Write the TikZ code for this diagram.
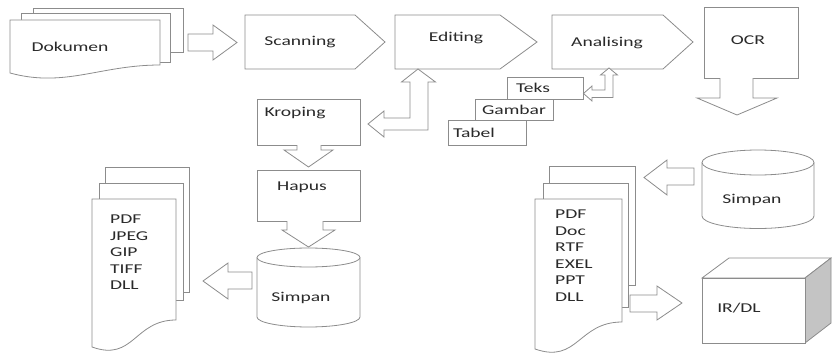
\documentclass[tikz,border=0pt]{standalone}
\usepackage{fontspec}
\setmainfont{Carlito}[FakeStretch=1.45]
\definecolor{ln}{HTML}{8C8C8C}
\definecolor{tx}{HTML}{2A2A2A}
\definecolor{side}{HTML}{C4C4C4}
\tikzset{
  shp/.style={draw=ln, line width=0.8pt, fill=white, line join=miter},
  edge/.style={draw=ln, line width=0.8pt, line join=miter},
  gap/.style={fill=white},
  lbl/.style={text=tx, font=\fontsize{13.5}{16.5}\selectfont, inner sep=0pt},
  lst/.style={lbl, align=left, anchor=north west},
}
\begin{document}
\begin{tikzpicture}[x=1pt,y=-1pt]
\useasboundingbox (0,0) rectangle (832,353);

% ---- Dokumen (multi-document)
\draw[shp] (33,8) rectangle (183,52);
\draw[shp] (21,13) rectangle (170,62);
\draw[shp] (10,20) -- (160,20) -- (160,65) .. controls (100,65) and (65,88) .. (10,73) -- cycle;
\node[lbl] (dok) at (70,47) {Dokumen};

% block arrow Dokumen -> Scanning
\draw[shp] (188,34) -- (213,34) -- (213,25) -- (237,42.5) -- (213,60) -- (213,51) -- (188,51) -- cycle;

% ---- process chevrons
\draw[shp] (245,15) -- (355,15) -- (385,42) -- (355,69) -- (245,69) -- cycle;
\node[lbl] (scan) at (300,42) {Scanning};
\draw[shp] (395,15) -- (500,15) -- (537,42) -- (500,69) -- (395,69) -- cycle;
\node[lbl] (edit) at (456,38) {Editing};
\draw[shp] (552,15) -- (663,15) -- (693,42) -- (663,69) -- (552,69) -- cycle;
\node[lbl] (anal) at (607,43) {Analising};

% ---- OCR
\draw[shp] (704,7) rectangle (798,78);
\node[lbl] (ocr) at (748,40) {OCR};
\fill[gap] (720,76) -- (720,98) -- (697,98) -- (737,115) -- (777,98) -- (753,98) -- (753,76) -- cycle;
\draw[edge] (720,78) -- (720,98) -- (697,98) -- (737,115) -- (777,98) -- (753,98) -- (753,78);

% ---- Editing <-> Kroping (left-up arrow)
\draw[shp] (418,69) -- (435.5,82) -- (428,82) -- (428,130) -- (384,130) -- (384,137) -- (368,124) -- (384,111) -- (384,118) -- (410,118) -- (410,82) -- (401.5,82) -- cycle;

% ---- Kroping
\draw[shp] (257,99) rectangle (360,145);
\node[lbl] (krop) at (295,113) {Kroping};
\fill[gap] (297,143) -- (297,150) -- (284,150) -- (308.5,167) -- (333,150) -- (321,150) -- (321,143) -- cycle;
\draw[edge] (297,145) -- (297,150) -- (284,150) -- (308.5,167) -- (333,150) -- (321,150) -- (321,145);

% ---- Hapus
\draw[shp] (257,170) rectangle (360,221);
\node[lbl] (hapus) at (302,187) {Hapus};
\fill[gap] (287,219) -- (287,230) -- (282,230) -- (308.5,247) -- (335,230) -- (323,230) -- (323,219) -- cycle;
\draw[edge] (287,221) -- (287,230) -- (282,230) -- (308.5,247) -- (335,230) -- (323,230) -- (323,221);

% ---- Simpan (left cylinder)
\fill[gap] (257,257.5) -- (257,317) arc[start angle=180, end angle=0, x radius=51.5, y radius=10] -- (360,257.5) -- cycle;
\draw[edge] (257,257.5) -- (257,317) arc[start angle=180, end angle=0, x radius=51.5, y radius=10] -- (360,257.5);
\draw[shp] (308.5,257.5) ellipse[x radius=51.5, y radius=9.5];
\node[lbl] (simpL) at (301,298) {Simpan};

% arrow Simpan -> left documents
\draw[shp] (252,272) -- (228,272) -- (228,263) -- (203,281) -- (228,299) -- (228,289) -- (252,289) -- cycle;

% ---- left documents
\draw[shp] (105,167) rectangle (189,292);
\draw[shp] (99,183) rectangle (183,300);
\draw[shp] (92,199) -- (176,199) -- (176,320) .. controls (134,320) and (134,362) .. (92,347) -- cycle;
\node[lst] (fmtL) at (110,215) {PDF\\JPEG\\GIP\\TIFF\\DLL};

% ---- Teks / Gambar / Tabel
\draw[shp] (507,77) rectangle (583,99);
\node[lbl] (teks) at (533,88) {Teks};
\draw[shp] (475,99) rectangle (553,120);
\node[lbl] (gamb) at (514,110) {Gambar};
\draw[shp] (448,120) rectangle (526,145);
\node[lbl] (tabel) at (474,133) {Tabel};

% Teks <-> Analising (small left-up arrow)
\draw[shp] (609,68) -- (617.5,75) -- (613,75) -- (613,97.5) -- (592,97.5) -- (592,101) -- (583.5,93.5) -- (592,86) -- (592,90) -- (605,90) -- (605,75) -- (600.5,75) -- cycle;

% ---- Simpan (right cylinder)
\fill[gap] (702,162.5) -- (702,216) arc[start angle=180, end angle=0, x radius=56, y radius=12.5] -- (814,162.5) -- cycle;
\draw[edge] (702,162.5) -- (702,216) arc[start angle=180, end angle=0, x radius=56, y radius=12.5] -- (814,162.5);
\draw[shp] (758,162.5) ellipse[x radius=56, y radius=12.5];
\node[lbl] (simpR) at (752,200) {Simpan};

% arrow Simpan -> right documents
\draw[shp] (694,168) -- (667,168) -- (667,160) -- (644,177.5) -- (667,195) -- (667,185) -- (694,185) -- cycle;

% ---- right documents
\draw[shp] (549,166) rectangle (635,285);
\draw[shp] (543,183) rectangle (628,307);
\draw[shp] (535,199) -- (622,199) -- (622,322) .. controls (578,322) and (578,364) .. (535,349) -- cycle;
\node[lst] (fmtR) at (555,210) {PDF\\Doc\\RTF\\EXEL\\PPT\\DLL};

% arrow documents -> IR/DL
\draw[shp] (630,295) -- (657,295) -- (657,286) -- (682,303) -- (657,320) -- (657,312) -- (630,312) -- cycle;

% ---- IR/DL cube
\draw[shp] (702,278) -- (729,258) -- (831,258) -- (805,278) -- cycle;
\draw[shp, fill=side] (805,278) -- (831,258) -- (831,323) -- (805,343) -- cycle;
\draw[shp] (702,278) rectangle (805,343);
\node[lbl] (irdl) at (739,308) {IR/DL};
\end{tikzpicture}
\end{document}
